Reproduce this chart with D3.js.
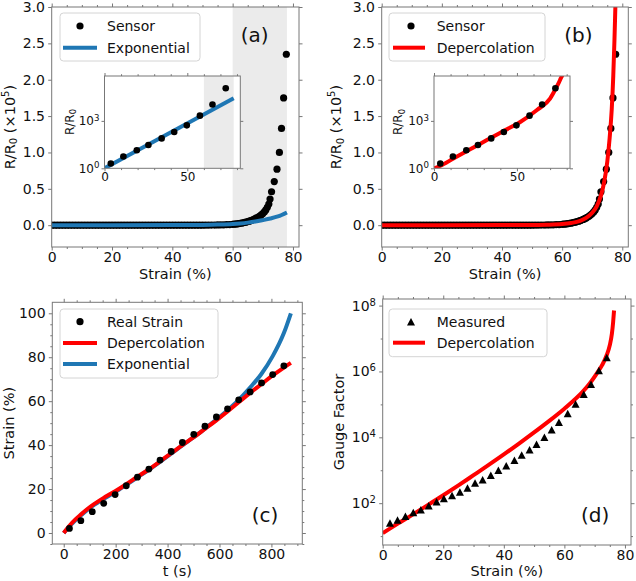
<!DOCTYPE html>
<html><head><meta charset="utf-8">
<script src="https://cdn.jsdelivr.net/npm/d3@7"></script>
<style>body{margin:0;background:#fff}svg{display:block}</style>
</head><body>
<script>
// ---------------- DATA ----------------
// Panels (a),(b): sensor R/R0 (x1e5) vs strain (%)
const sensorStrain = [0,1,2,3,4,5,6,7,8,9,10,11,12,13,14,15,16,17,18,19,20,21,22,23,24,25,26,27,28,29,30,31,32,33,34,35,36,37,38,39,40,41,42,43,44,45,46,47,48,49,50,51,52,53,54,55,56,57,58,59,
  60,60.5,61,61.5,62,62.5,63,63.5,64,64.5,65,65.5,66,66.5,67,67.5,68,68.5,69,69.5,70,70.5,71,71.5,72,
  72.4,72.9,73.8,74.7,75.5,76.2,76.9,77.8];
const sensorRR = [0,0,0,0,0,0,0,0,0,0, 0,0,0,0,0,0,0,0,0,0, 0,0,0,0,0,0,0,0,0,0, 0,0,0,0,0,0,0,0,0,0, 0,0,0,0,0,0,0,0,0,0, 0,
  0.001,0.001,0.002,0.002,0.003,0.004,0.005,0.007,0.009,
  0.012,0.014,0.016,0.019,0.022,0.025,0.029,0.033,0.038,0.043,0.049,0.055,0.062,0.07,0.079,0.089,0.1,0.112,0.126,0.142,0.16,0.182,0.21,0.245,0.29,
  0.36,0.46,0.60,0.77,1.00,1.33,1.75,2.35];
const expStrain = [0,40,45,50,55,60,62.5,65,67.5,70,72.5,75,78];
const expRR     = [0,0.001,0.002,0.004,0.008,0.016,0.024,0.035,0.05,0.07,0.092,0.12,0.175];
const depStrain = [0,40,50,55,60,63,66,68,70,71.5,73,74,75,75.8,76.5,77,77.4,77.7,77.9];
const depRR     = [0,0.001,0.003,0.006,0.015,0.03,0.06,0.1,0.17,0.26,0.42,0.6,0.87,1.2,1.6,2.05,2.55,3.0,3.3];
const shadeRange = [60,78];
// insets (log R/R0)
const insetStrain = [3.8,11.4,19.5,26.5,34.5,42.1,49.7,57.6,65.2,73.2];
const insetRR     = [2.0,5.6,13.8,29.5,78,200,520,2140,11000,115000];
const insetExpStrain = [0,78];
const insetExpRR     = [1,26900];
const insetDepStrain = [0,3.6,11.7,21.8,31.9,41.9,52,62.1,70.1,73.2,75.2,76.5,77.4,78];
const insetDepRR     = [1,1.4,4.1,15.8,62,229,850,4900,26900,100000,251000,501000,794000,1260000];
// Panel (c): strain vs time
const timeS      = [22,66,110,154,198,241,284,328,371,414,457,501,544,588,631,674,718,762,805,848];
const realStrain = [2.1,5.6,9.7,13.5,17.5,21.5,25.4,29.1,33.2,37.1,41.2,44.9,48.6,52.8,56.5,60.6,64.2,68.3,72.1,76.1];
const fitT       = [0,22,45,66,90,110,154,198,241,284,328,371,414,457,501,544,588,631,674,718,762,805,848,875];
const depStrainC = [0,3.3,6.2,8.4,10.8,12.6,16.0,19.0,22.2,25.6,29.0,32.6,36.3,40.0,43.6,47.4,51.3,55.3,59.5,63.8,67.8,71.7,75.3,77.4];
const expStrainC = [0,3.0,5.8,8.0,10.4,12.2,15.6,18.6,21.9,25.3,28.8,32.4,36.1,39.9,43.6,47.5,51.6,55.9,60.6,66.2,72.5,80.5,91,100];
// Panel (d): gauge factor
const gfStrain   = [2.4,4.9,7.5,10.1,12.6,15.2,17.8,20.2,22.9,25.5,28.0,30.5,33.0,35.7,38.2,40.8,43.5,45.9,48.5,50.8,53.4,55.8,58.2,61.1,63.7,66.4,68.8,71.4,74.0];
const gfMeasured = [25,31,40,52,63,83,110,138,170,219,288,407,513,708,1000,1380,2000,2880,4170,6170,10000,17000,28800,52500,102000,204000,407000,1070000,2630000];
const gfDepStrain = [0,5,10,15,20,25,30,35,40,45,50,55,60,63,66,68.5,71,72.5,74,75,75.7,76.1,76.4];
const gfDep       = [12.3,24,45.7,89,174,347,708,1450,3020,6460,14100,31600,74100,129000,240000,447000,955000,1580000,3160000,6310000,14100000,31600000,70800000];
// tick labels
const strainTicks = [0,20,40,60,80];
const rrTicks = [0,0.5,1.0,1.5,2.0,2.5,3.0];
const timeTicks = [0,200,400,600,800];
const strainCTicks = [0,20,40,60,80,100];
const gfTicks = [1e2,1e4,1e6,1e8];
const insetXTicks = [0,50];
const insetYTicks = [1,1000];

// ---------------- DRAW ----------------
const W=636,H=581, SPINE="#777", TXT="#111", BLUE="#1f77b4", RED="#ff0000";
const svg=d3.select("body").append("svg").attr("width",W).attr("height",H)
  .style("font-family","'DejaVu Sans', sans-serif");
svg.append("rect").attr("width",W).attr("height",H).attr("fill","#fff");

function mkAxis(g,gen,tr,vals,size,pad,fmt,fs){
  const ax=gen.tickValues(vals).tickSize(size).tickPadding(pad).tickFormat(fmt||(()=>""));
  const s=g.append("g").attr("transform",tr).call(ax);
  s.attr("font-family",null).attr("font-size",fs);
  s.select(".domain").remove();
  s.selectAll(".tick line").attr("stroke",SPINE);
  s.selectAll(".tick text").attr("fill",TXT);
  return s;
}
function sup(sel){
  sel.selectAll(".tick text").each(function(d){
    const t=d3.select(this); const e=Math.round(Math.log10(d));
    t.text(null);
    t.append("tspan").text("10");
    t.append("tspan").attr("dy","-0.5em").attr("font-size","0.72em").text(e);
  });
}
function axesSet(g,r,x,y,o){
  const B=`translate(0,${r.y1})`,T=`translate(0,${r.y0})`,L=`translate(${r.x0},0)`,R=`translate(${r.x1},0)`;
  const fs=o.fs,M=o.maj,m=o.min;
  if(o.xMin){mkAxis(g,d3.axisBottom(x),B,o.xMin,m,0,null,fs);mkAxis(g,d3.axisTop(x),T,o.xMin,m,0,null,fs);}
  if(o.yMin){mkAxis(g,d3.axisLeft(y),L,o.yMin,m,0,null,fs);mkAxis(g,d3.axisRight(y),R,o.yMin,m,0,null,fs);}
  mkAxis(g,d3.axisBottom(x),B,o.xMaj,M,o.xPad,o.xFmt,fs);
  mkAxis(g,d3.axisTop(x),T,o.xMaj,M,0,null,fs);
  const yl=mkAxis(g,d3.axisLeft(y),L,o.yMaj,M,o.yPad,o.yFmt,fs);
  mkAxis(g,d3.axisRight(y),R,o.yMaj,M,0,null,fs);
  if(o.ySup) sup(yl);
  g.append("rect").attr("x",r.x0).attr("y",r.y0).attr("width",r.x1-r.x0).attr("height",r.y1-r.y0)
    .attr("fill","none").attr("stroke",SPINE).attr("stroke-width",1);
}
let clipN=0;
function clipG(g,r){
  const id="clip"+(clipN++);
  svg.append("clipPath").attr("id",id).append("rect").attr("x",r.x0).attr("y",r.y0).attr("width",r.x1-r.x0).attr("height",r.y1-r.y0);
  return g.append("g").attr("clip-path",`url(#${id})`);
}
function curve(g,xs,ys,x,y,color,w){
  const line=d3.line().x(d=>x(d[0])).y(d=>y(d[1])).curve(d3.curveMonotoneX);
  g.append("path").attr("d",line(d3.zip(xs,ys))).attr("fill","none").attr("stroke",color)
    .attr("stroke-width",w).attr("stroke-linejoin","round");
}
function dots(g,xs,ys,x,y,r){
  g.selectAll(null).data(d3.zip(xs,ys)).join("circle").attr("cx",d=>x(d[0])).attr("cy",d=>y(d[1])).attr("r",r).attr("fill","#000");
}
function tri(w,h){return `M0,${-h/2}L${w/2},${h/2}L${-w/2},${h/2}Z`;}
function legend(g,b,rows){
  g.append("rect").attr("x",b.x).attr("y",b.y).attr("width",b.w).attr("height",b.h).attr("rx",3.5)
    .attr("fill","#fff").attr("fill-opacity",0.8).attr("stroke","#d4d4d4");
  rows.forEach((r,i)=>{
    const yy=b.r0+i*b.dy;
    if(r.type==="dot") g.append("circle").attr("cx",b.mx).attr("cy",yy).attr("r",3.6).attr("fill","#000");
    if(r.type==="tri") g.append("path").attr("d",tri(8,7.5)).attr("transform",`translate(${b.mx},${yy})`).attr("fill","#000");
    if(r.type==="line") g.append("line").attr("x1",b.lx0).attr("x2",b.lx1).attr("y1",yy).attr("y2",yy).attr("stroke",r.color).attr("stroke-width",4);
    g.append("text").attr("x",b.tx).attr("y",yy).attr("dy","0.35em").attr("font-size",14).attr("fill",TXT).text(r.label);
  });
}
function xLabel(g,x,y,txt){g.append("text").attr("x",x).attr("y",y).attr("text-anchor","middle").attr("font-size",14.5).attr("fill",TXT).text(txt);}
function yLabel(g,x,y,txt,fs){return g.append("text").attr("transform",`translate(${x},${y}) rotate(-90)`).attr("text-anchor","middle").attr("font-size",fs||14.5).attr("fill",TXT).attr("dy","0.35em").text(txt);}
function rrLabel(g,x,y,fs,full){
  const t=g.append("text").attr("transform",`translate(${x},${y}) rotate(-90)`).attr("text-anchor","middle").attr("font-size",fs).attr("fill",TXT);
  t.append("tspan").attr("dy",fs*0.35).text("R/R");
  t.append("tspan").attr("dy",fs*0.2).attr("font-size",fs*0.7).text("0");
  if(full){
    t.append("tspan").attr("dy",-fs*0.2).text(" (×10");
    t.append("tspan").attr("dy",-fs*0.4).attr("font-size",fs*0.7).text("5");
    t.append("tspan").attr("dy",fs*0.4).text(")");
  }
}
function panelLabel(g,x,y,txt){g.append("text").attr("x",x).attr("y",y).attr("font-size",20).attr("fill",TXT).text(txt);}

const fmt1=d3.format(".1f"), fmtD=d3.format("d");
const xMinAB=d3.range(5,82,5).filter(v=>v%20!==0);

// ---- inset builder ----
function inset(g,r,drawContent){
  g.append("rect").attr("x",r.x0).attr("y",r.y0).attr("width",r.x1-r.x0).attr("height",r.y1-r.y0).attr("fill","#fff");
  const x=d3.scaleLinear().domain([0,82]).range([r.x0,r.x1]);
  const y=d3.scaleLog().domain([1,692000]).range([r.y1,r.y0]);
  const c=clipG(g,r);
  drawContent(c,x,y);
  axesSet(g,r,x,y,{fs:12,maj:3,min:1.8,xMaj:insetXTicks,xMin:d3.range(10,82,10).filter(v=>v!==50),
    yMaj:insetYTicks,xPad:1.5,yPad:2,xFmt:fmtD,yFmt:()=>"",ySup:true});
  return {x,y};
}

// ================= Panel (a) =================
{
  const g=svg.append("g");
  const r={x0:51.7,x1:299,y0:7,y1:247};
  const x=d3.scaleLinear().domain([0,82]).range([r.x0,r.x1]);
  const y=d3.scaleLinear().domain([-0.3,3.0]).range([r.y1,r.y0]);
  const c=clipG(g,r);
  c.append("rect").attr("x",x(shadeRange[0])).attr("y",r.y0).attr("width",x(shadeRange[1])-x(shadeRange[0])).attr("height",r.y1-r.y0).attr("fill","#ebebeb");
  dots(c,sensorStrain,sensorRR,x,y,3.6);
  curve(c,expStrain,expRR,x,y,BLUE,4);
  axesSet(g,r,x,y,{fs:14,maj:3.5,min:2,xMaj:strainTicks,xMin:xMinAB,yMaj:rrTicks,xPad:2,yPad:3.2,xFmt:fmtD,yFmt:fmt1});
  const ir={x0:104.5,x1:240.3,y0:76,y1:168.3};
  inset(g,ir,(cc,ix,iy)=>{
    cc.append("rect").attr("x",ix(shadeRange[0])).attr("y",ir.y0).attr("width",ix(shadeRange[1])-ix(shadeRange[0])).attr("height",ir.y1-ir.y0).attr("fill","#ebebeb");
    curve(cc,insetExpStrain,insetExpRR,ix,iy,BLUE,4);
    dots(cc,insetStrain,insetRR,ix,iy,3.3);
  });
  rrLabel(g,69.5,122,12,false);
  legend(g,{x:60,y:13,w:140,h:48,r0:26,dy:21.7,mx:80,lx0:63,lx1:97,tx:107},
    [{type:"dot",label:"Sensor"},{type:"line",color:BLUE,label:"Exponential"}]);
  panelLabel(g,240.7,42.4,"(a)");
  xLabel(g,(r.x0+r.x1)/2,279,"Strain (%)");
  rrLabel(g,9.5,(r.y0+r.y1)/2,14.5,true);
}
// ================= Panel (b) =================
{
  const g=svg.append("g");
  const r={x0:381.7,x1:628.3,y0:7,y1:247};
  const x=d3.scaleLinear().domain([0,82]).range([r.x0,r.x1]);
  const y=d3.scaleLinear().domain([-0.3,3.0]).range([r.y1,r.y0]);
  const c=clipG(g,r);
  dots(c,sensorStrain,sensorRR,x,y,3.6);
  curve(c,depStrain,depRR,x,y,RED,4);
  axesSet(g,r,x,y,{fs:14,maj:3.5,min:2,xMaj:strainTicks,xMin:xMinAB,yMaj:rrTicks,xPad:2,yPad:3.2,xFmt:fmtD,yFmt:fmt1});
  const ir={x0:434,x1:570,y0:76,y1:168.3};
  inset(g,ir,(cc,ix,iy)=>{
    curve(cc,insetDepStrain,insetDepRR,ix,iy,RED,4);
    dots(cc,insetStrain,insetRR,ix,iy,3.3);
  });
  rrLabel(g,398,122,12,false);
  legend(g,{x:389,y:13,w:156,h:48,r0:26,dy:21.7,mx:411,lx0:393,lx1:425,tx:436.7},
    [{type:"dot",label:"Sensor"},{type:"line",color:RED,label:"Depercolation"}]);
  panelLabel(g,564.3,42.4,"(b)");
  xLabel(g,(r.x0+r.x1)/2,279,"Strain (%)");
  rrLabel(g,336,(r.y0+r.y1)/2,14.5,true);
}
// ================= Panel (c) =================
{
  const g=svg.append("g");
  const r={x0:52.3,x1:302.3,y0:302.3,y1:544};
  const x=d3.scaleLinear().domain([-44,919]).range([r.x0,r.x1]);
  const y=d3.scaleLinear().domain([-5,105]).range([r.y1,r.y0]);
  const c=clipG(g,r);
  curve(c,fitT,expStrainC,x,y,BLUE,4);
  curve(c,fitT,depStrainC,x,y,RED,4);
  dots(c,timeS,realStrain,x,y,3.4);
  axesSet(g,r,x,y,{fs:14,maj:3.5,min:2,xMaj:timeTicks,xMin:d3.range(-0,919,50).filter(v=>v%200!==0),
    yMaj:strainCTicks,yMin:d3.range(-5,105,5).filter(v=>v%20!==0),xPad:2,yPad:3.2,xFmt:fmtD,yFmt:fmtD});
  legend(g,{x:60,y:309,w:158,h:69,r0:321.7,dy:21.2,mx:80,lx0:63,lx1:97,tx:107},
    [{type:"dot",label:"Real Strain"},{type:"line",color:RED,label:"Depercolation"},{type:"line",color:BLUE,label:"Exponential"}]);
  panelLabel(g,251.7,522,"(c)");
  xLabel(g,(r.x0+r.x1)/2,575.5,"t (s)");
  yLabel(g,9,(r.y0+r.y1)/2,"Strain (%)");
}
// ================= Panel (d) =================
{
  const g=svg.append("g");
  const r={x0:382.7,x1:631,y0:299,y1:545};
  const x=d3.scaleLinear().domain([0,82]).range([r.x0,r.x1]);
  const y=d3.scaleLog().domain([5.37,1.585e8]).range([r.y1,r.y0]);
  const c=clipG(g,r);
  curve(c,gfDepStrain,gfDep,x,y,RED,4);
  c.selectAll(null).data(d3.zip(gfStrain,gfMeasured)).join("path").attr("d",tri(8,7.5))
    .attr("transform",d=>`translate(${x(d[0])},${y(d[1])})`).attr("fill","#000");
  axesSet(g,r,x,y,{fs:14,maj:3.5,min:2,xMaj:strainTicks,xMin:xMinAB,yMaj:gfTicks,yMin:[1e1,1e3,1e5,1e7],
    xPad:2,yPad:3.2,xFmt:fmtD,yFmt:()=>"",ySup:true});
  legend(g,{x:389,y:309,w:158,h:47.7,r0:321.7,dy:21,mx:411,lx0:393,lx1:425,tx:436.7},
    [{type:"tri",label:"Measured"},{type:"line",color:RED,label:"Depercolation"}]);
  panelLabel(g,581,522,"(d)");
  xLabel(g,(r.x0+r.x1)/2,575.5,"Strain (%)");
  yLabel(g,339.3,(r.y0+r.y1)/2,"Gauge Factor");
}
</script>
</body></html>
